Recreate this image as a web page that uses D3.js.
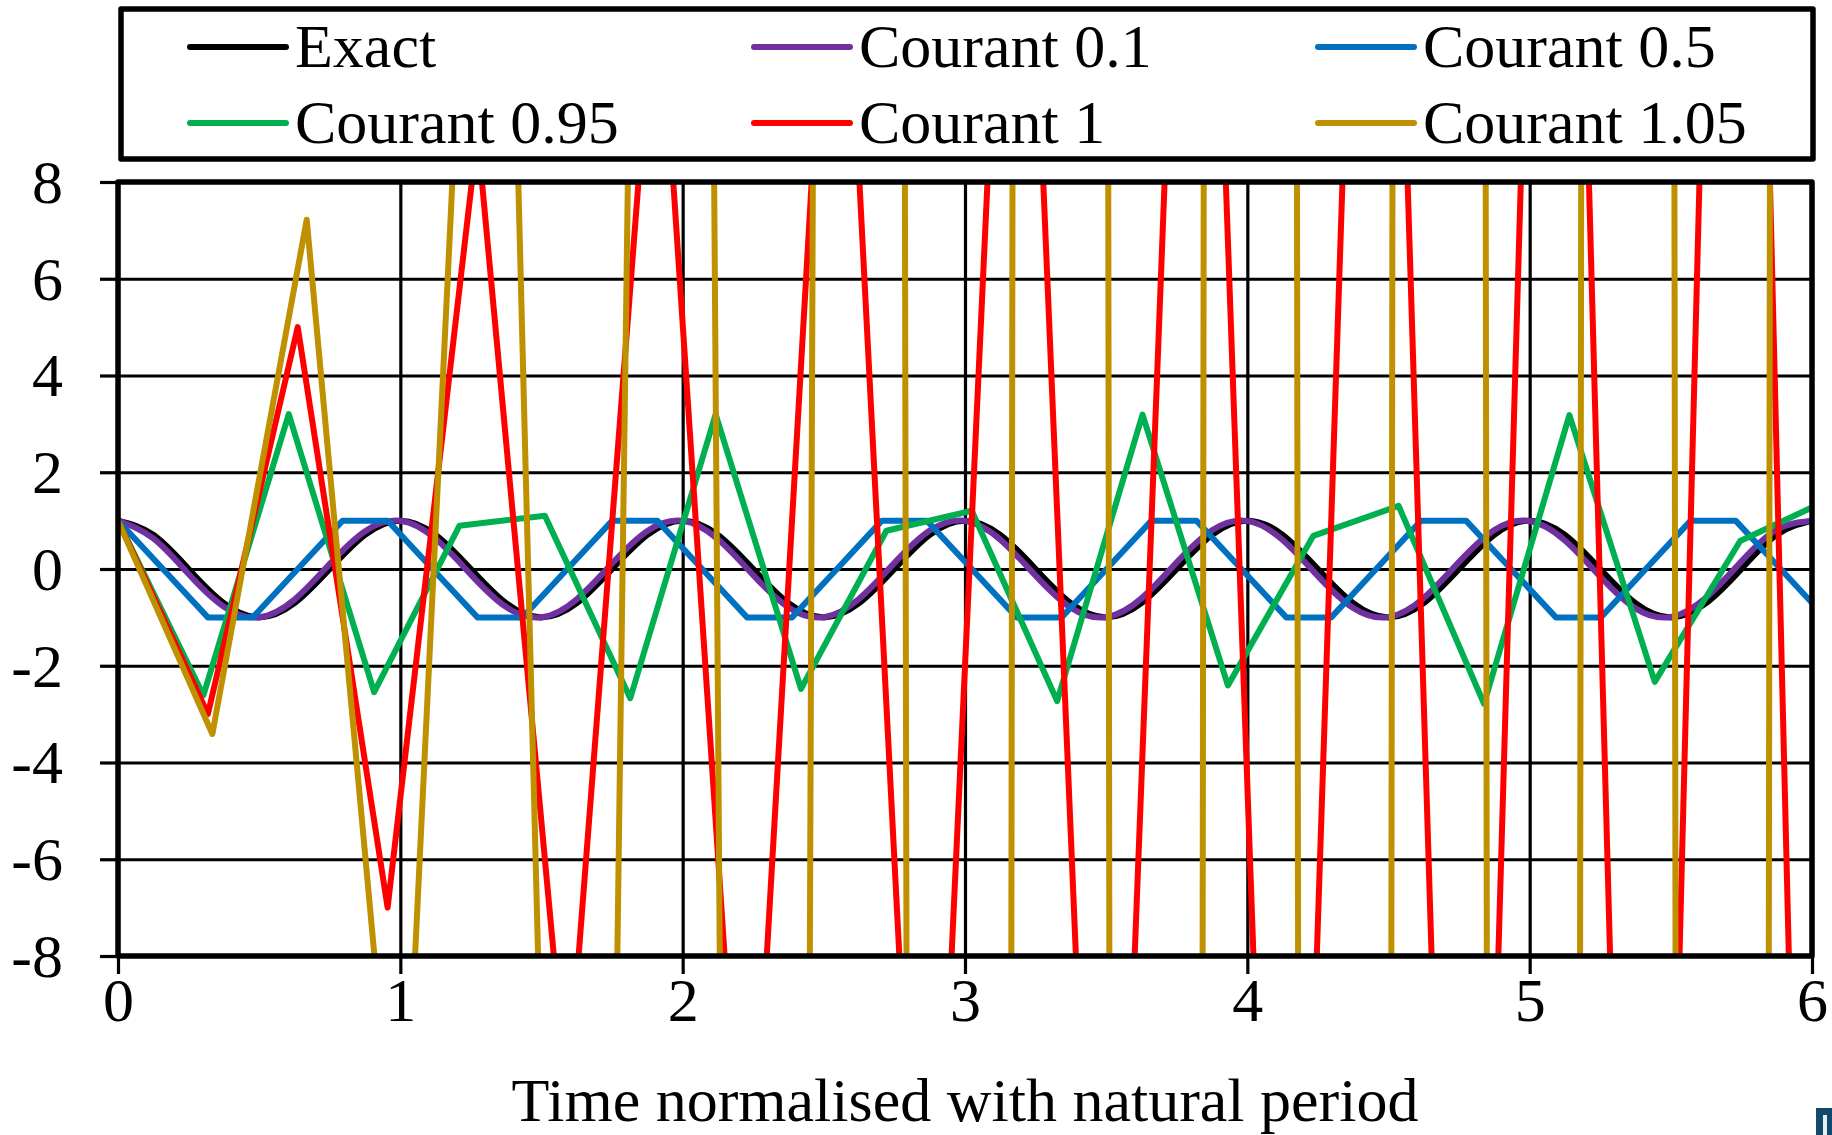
<!DOCTYPE html>
<html>
<head>
<meta charset="utf-8">
<script src="https://cdn.jsdelivr.net/npm/d3@7"></script>
<style>
  body { margin: 0; background: #fff; }
  text { font-family: "Liberation Serif", "Times New Roman", serif; fill: #000; }
</style>
</head>
<body>
<script>
var width = 1832;
var height = 1135;

// series names + colours (legend order)
var seriesNames = ["Exact", "Courant 0.1", "Courant 0.5", "Courant 0.95", "Courant 1", "Courant 1.05"];
var seriesColors = ["#000000", "#7030a0", "#0070c0", "#00b050", "#ff0000", "#bf9000"];

// time step of each series (in natural periods)
var timeSteps = [0.125, 0.125, 0.159155, 0.302394, 0.31831, 0.334225];

// values
var exactVals = [1, 0.7071, 0, -0.7071, -1, -0.7071, 0, 0.7071,
    1, 0.7071, 0, -0.7071, -1, -0.7071, 0, 0.7071,
    1, 0.7071, 0, -0.7071, -1, -0.7071, 0, 0.7071,
    1, 0.7071, 0, -0.7071, -1, -0.7071, 0, 0.7071,
    1, 0.7071, 0, -0.7071, -1, -0.7071, 0, 0.7071,
    1, 0.7071, 0, -0.7071, -1, -0.7071, 0, 0.7071,
    1];
var c01Vals = [1, 0.6322, -0.1053, -0.7812, -0.9995, -0.6322, 0.1053, 0.7812,
    0.9983, 0.6240, -0.1158, -0.7878, -0.9983, -0.6240, 0.1158, 0.7878,
    0.9970, 0.6157, -0.1263, -0.7943, -0.9970, -0.6157, 0.1263, 0.7943,
    0.9957, 0.6073, -0.1368, -0.8007, -0.9957, -0.6073, 0.1368, 0.8007,
    0.9942, 0.5989, -0.1472, -0.8071, -0.9942, -0.5989, 0.1472, 0.8071,
    0.9926, 0.5904, -0.1576, -0.8133, -0.9926, -0.5904, 0.1576, 0.8133,
    0.9909];
var c05Vals = [1, 0, -1, -1, 0, 1, 1, 0, -1, -1, 0, 1, 1, 0, -1, -1, 0, 1,
    1, 0, -1, -1, 0, 1, 1, 0, -1, -1, 0, 1, 1, 0, -1, -1, 0, 1, 1, 0, -1];
var c095Vals = [1, -2.61, 3.2021, -2.5454, 0.896, 1.1029, -2.6716, 3.1984, -2.4778, 0.7909,
    1.2045, -2.7301, 3.191, -2.4074, 0.6849, 1.3047, -2.7855, 3.1799, -2.3342, 0.5781, 1.4034];
var c1Vals = [1, -3, 5, -7, 9, -11, 13, -15, 17, -19, 21, -23, 25, -27, 29, -31, 33, -35, 37, -39];
var c105Vals = [1, -3.41, 7.2181, -13.9856, 26.4872, -49.8486, 93.6479, -175.843, 330.133, -619.778,
    1163.53, -2184.33, 4100.71, -7698.38, 14452.4, -27131.9, 50935.4, -95622.5, 179515];

var xTicks = [0, 1, 2, 3, 4, 5, 6];
var yTicks = [-8, -6, -4, -2, 0, 2, 4, 6, 8];
var xTitle = "Time normalised with natural period";

var allVals = [exactVals, c01Vals, c05Vals, c095Vals, c1Vals, c105Vals];

// the spreadsheet that drew this stops following a line far off the axis,
// so huge values get cut to this before plotting (matches where the lines cross)
var drawLimit = 690;

// plot box (note: "top" is taken by window.top, so prefix everything)
var plotL = 118, plotR = 1812, plotT = 182, plotB = 956;
var fontSize = 62;

var svg = d3.select("body").append("svg")
    .attr("width", width)
    .attr("height", height);

svg.append("rect")
    .attr("width", width)
    .attr("height", height)
    .attr("fill", "#fff");

var x = d3.scaleLinear().domain([0, 6]).range([plotL, plotR]);
var y = d3.scaleLinear().domain([-8, 8]).range([plotB, plotT]);

// gridlines
var hGrid = svg.append("g")
    .attr("transform", "translate(" + plotL + ",0)")
    .call(d3.axisLeft(y).tickValues(yTicks).tickSize(-(plotR - plotL)).tickFormat(""));
var vGrid = svg.append("g")
    .attr("transform", "translate(0," + plotB + ")")
    .call(d3.axisBottom(x).tickValues(xTicks).tickSize(-(plotB - plotT)).tickFormat(""));
[hGrid, vGrid].forEach(function (g) {
    g.select(".domain").remove();
    g.selectAll("line").attr("stroke", "#000").attr("stroke-width", 3.2);
});

// data lines, clipped to the plot
svg.append("clipPath")
    .attr("id", "plot-clip")
    .append("rect")
    .attr("x", plotL)
    .attr("y", plotT)
    .attr("width", plotR - plotL)
    .attr("height", plotB - plotT);

var linesG = svg.append("g").attr("clip-path", "url(#plot-clip)");

allVals.forEach(function (vals, k) {
    var step = timeSteps[k];
    var line = d3.line()
        .x(function (d, i) { return x(i * step); })
        .y(function (d) { return y(Math.max(-drawLimit, Math.min(drawLimit, d))); })
        .curve(k < 2 ? d3.curveNatural : d3.curveLinear);
    linesG.append("path")
        .datum(vals)
        .attr("d", line)
        .attr("fill", "none")
        .attr("stroke", seriesColors[k])
        .attr("stroke-width", 6)
        .attr("stroke-linejoin", "round");
});

// plot frame
svg.append("rect")
    .attr("x", plotL)
    .attr("y", plotT)
    .attr("width", plotR - plotL)
    .attr("height", plotB - plotT)
    .attr("fill", "none")
    .attr("stroke", "#000")
    .attr("stroke-width", 5.5)
    .attr("stroke-linejoin", "round");

// axes with outward ticks (plain hyphen for negatives, like the original)
var yAxisG = svg.append("g")
    .attr("transform", "translate(" + plotL + ",0)")
    .call(d3.axisLeft(y).tickValues(yTicks).tickSize(18).tickPadding(37)
        .tickFormat(function (d) { return String(d); }));
var xAxisG = svg.append("g")
    .attr("transform", "translate(0," + plotB + ")")
    .call(d3.axisBottom(x).tickValues(xTicks).tickSize(18)
        .tickFormat(function (d) { return String(d); }));
[yAxisG, xAxisG].forEach(function (g) {
    g.select(".domain").remove();
    g.selectAll("line").attr("stroke", "#000").attr("stroke-width", 3.2);
    g.selectAll("text")
        .attr("fill", "#000")
        .style("font-size", fontSize + "px")
        .style("font-family", "'Liberation Serif', 'Times New Roman', serif");
});
yAxisG.selectAll("text").attr("dy", "0.33em");
xAxisG.selectAll("text").attr("y", 65).attr("dy", 0);

// axis title
svg.append("text")
    .attr("x", (plotL + plotR) / 2)
    .attr("y", 1121)
    .attr("text-anchor", "middle")
    .style("font-size", fontSize + "px")
    .text(xTitle);

// legend
var legend = svg.append("g");
legend.append("rect")
    .attr("x", 121)
    .attr("y", 9)
    .attr("width", 1692)
    .attr("height", 150)
    .attr("fill", "#fff")
    .attr("stroke", "#000")
    .attr("stroke-width", 5.5)
    .attr("stroke-linejoin", "round");

var items = legend.selectAll(".item")
    .data(seriesNames)
    .enter()
    .append("g")
    .attr("class", "item")
    .attr("transform", function (d, i) {
        return "translate(" + (190 + 564 * (i % 3)) + "," + (47 + 76 * Math.floor(i / 3)) + ")";
    });
items.append("line")
    .attr("x1", 0)
    .attr("x2", 96)
    .attr("stroke", function (d, i) { return seriesColors[i]; })
    .attr("stroke-width", 6)
    .attr("stroke-linecap", "round");
items.append("text")
    .attr("x", 105)
    .attr("y", 20)
    .style("font-size", fontSize + "px")
    .text(function (d) { return d; });

// bit of a logo cut off in the corner
svg.append("rect")
    .attr("x", 1816)
    .attr("y", 1108)
    .attr("width", 16)
    .attr("height", 27)
    .attr("fill", "#124a6e");
svg.append("rect")
    .attr("x", 1823)
    .attr("y", 1115)
    .attr("width", 4)
    .attr("height", 20)
    .attr("fill", "#e8eef3");
</script>
</body>
</html>
